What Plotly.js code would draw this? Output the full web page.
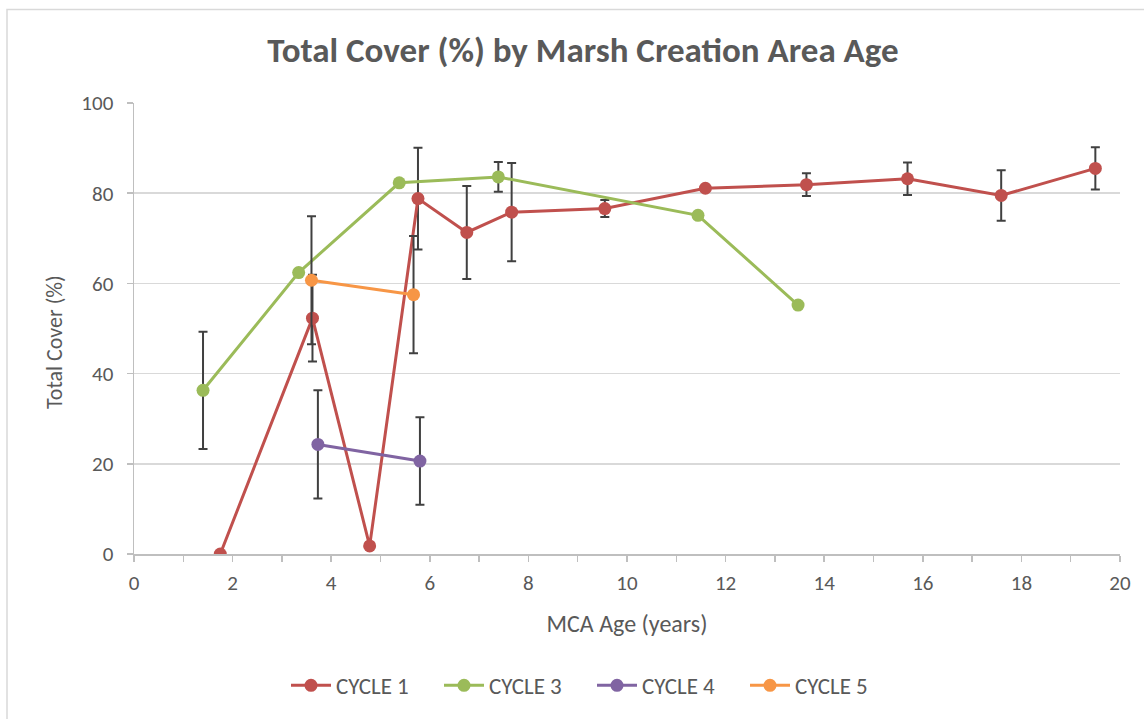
<!DOCTYPE html>
<html>
<head>
<meta charset="utf-8">
<script src="https://cdn.plot.ly/plotly-3.0.1.min.js"></script>
<style>
  html, body { margin: 0; padding: 0; background: #fff; }
  #chart { width: 1144px; height: 719px; }
</style>
</head>
<body>
<div id="chart"></div>
<script>
// ---- data ----
const seriesNames = ["CYCLE 1", "CYCLE 3", "CYCLE 4", "CYCLE 5"];

const cycle1Age   = [1.75, 3.62, 4.78, 5.76, 6.75, 7.66, 9.55, 11.59, 13.64, 15.69, 17.59, 19.5];
const cycle1Cover = [0, 52.3, 1.8, 78.8, 71.3, 75.8, 76.6, 81.1, 81.9, 83.2, 79.5, 85.5];
const cycle1Err   = [0, 9.6, 0, 11.3, 10.3, 10.9, 1.9, 0, 2.5, 3.6, 5.6, 4.7];

const cycle3Age   = [1.40, 3.34, 5.38, 7.39, 11.44, 13.47];
const cycle3Cover = [36.3, 62.4, 82.3, 83.6, 75.1, 55.2];
const cycle3Err   = [13.0, 0, 0, 3.3, 0.5, 0];

const cycle4Age   = [3.73, 5.80];
const cycle4Cover = [24.3, 20.6];
const cycle4Err   = [12.0, 9.7];

const cycle5Age   = [3.60, 5.67];
const cycle5Cover = [60.7, 57.5];
const cycle5Err   = [14.2, 13.0];

const xTickVals = [0, 2, 4, 6, 8, 10, 12, 14, 16, 18, 20];
const yTickVals = [0, 20, 40, 60, 80, 100];

const titleText  = "Total Cover (%) by Marsh Creation Area Age";
const xTitleText = "MCA Age (years)";
const yTitleText = "Total Cover (%)";

// ---- styling ----
const colors = ["#c0504d", "#9bbb59", "#8064a2", "#f79646"];
const textColor = "#595959";
const FONT = "Carlito, 'Liberation Sans Narrow', 'Open Sans', sans-serif";

function mk(name, x, y, err, color) {
  return {
    type: "scatter",
    mode: "lines+markers",
    name: name,
    x: x, y: y,
    line: { color: color, width: 3 },
    marker: { color: color, size: 13 },
    error_y: { type: "data", array: err, visible: true, color: "#404040", thickness: 2, width: 4.5 },
    hoverinfo: "x+y"
  };
}

const traces = [
  mk(seriesNames[0], cycle1Age, cycle1Cover, cycle1Err, colors[0]),
  mk(seriesNames[1], cycle3Age, cycle3Cover, cycle3Err, colors[1]),
  mk(seriesNames[2], cycle4Age, cycle4Cover, cycle4Err, colors[2]),
  mk(seriesNames[3], cycle5Age, cycle5Cover, cycle5Err, colors[3])
];

const layout = {
  width: 1144, height: 719,
  paper_bgcolor: "#ffffff",
  plot_bgcolor: "#ffffff",
  margin: { l: 134, r: 24, t: 103, b: 163 },
  font: { family: FONT, color: textColor, size: 21 },
  title: {
    text: "<b>" + titleText + "</b>",
    font: { family: FONT, size: 35, color: textColor },
    x: 583 / 1144, xref: "container", xanchor: "center",
    y: 1 - 50 / 719, yref: "container", yanchor: "middle"
  },
  xaxis: {
    range: [0, 20],
    tickvals: xTickVals,
    ticks: "outside", ticklen: 6, tickwidth: 1.5, tickcolor: "#bfbfbf",
    minor: { dtick: 1, tick0: 0, ticks: "outside", ticklen: 6, tickwidth: 1.5, tickcolor: "#bfbfbf", showgrid: false },
    showgrid: false, zeroline: false,
    showline: true, linecolor: "#bfbfbf", linewidth: 1.5,
    tickfont: { size: 21, color: textColor },
    ticklabelstandoff: 3,
    title: { text: xTitleText, font: { size: 24, color: textColor }, standoff: 20 }
  },
  yaxis: {
    range: [0, 100],
    tickvals: yTickVals,
    ticks: "outside", ticklen: 6, tickwidth: 1.5, tickcolor: "#bfbfbf",
    showgrid: true, gridcolor: "#d9d9d9", gridwidth: 1.5,
    zeroline: false,
    showline: true, linecolor: "#bfbfbf", linewidth: 1.5,
    tickfont: { size: 21, color: textColor },
    ticklabelstandoff: 9
  },
  annotations: [
    { text: yTitleText, xref: "paper", yref: "paper",
      x: (55 - 134) / 986, y: (556 - 343) / 453,
      xanchor: "center", yanchor: "middle", textangle: -90, showarrow: false,
      font: { size: 22, color: textColor } }
  ],
  legend: {
    orientation: "h",
    x: (592 - 134) / 986, xanchor: "center",
    y: (556 - 688) / 453, yanchor: "middle",
    font: { size: 23, color: textColor },
    itemwidth: 40,
    entrywidth: 98, entrywidthmode: "pixels",
    bgcolor: "rgba(0,0,0,0)"
  },
  shapes: [
    { type: "rect", xref: "paper", yref: "paper",
      x0: (7 - 134) / 986, x1: 1.2, y0: -0.6, y1: (556 - 9) / 453,
      line: { color: "#d9d9d9", width: 1.5 }, fillcolor: "rgba(0,0,0,0)", layer: "below" }
  ],
  showlegend: true
};

Plotly.newPlot("chart", traces, layout, { displayModeBar: false, staticPlot: true });
</script>
</body>
</html>
